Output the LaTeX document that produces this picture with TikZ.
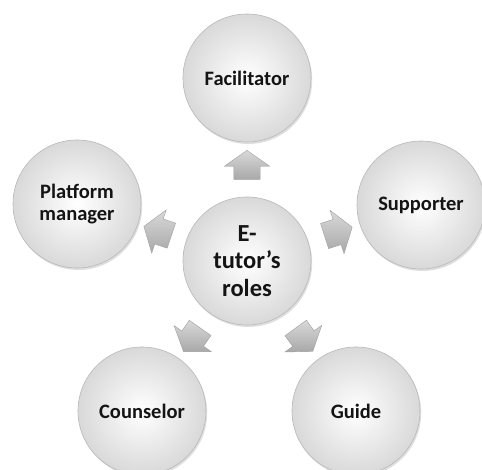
\documentclass[tikz,border=0pt]{standalone}
\usepackage{fontspec}
\setmainfont{Carlito}
\usetikzlibrary{shapes.arrows,shadows,calc}
\begin{document}
\begin{tikzpicture}[x=1pt,y=-1pt]
\tikzset{
 role/.style={circle, minimum size=128pt, inner sep=0pt, draw=gray!55, line width=0.6pt,
   inner color=white, outer color=gray!30,
   drop shadow={shadow xshift=1.2pt, shadow yshift=-2pt, opacity=0.25},
   font=\bfseries\fontsize{20.5}{22}\selectfont, text=black!92, align=center},
 hub/.style={role, font=\bfseries\fontsize{24.5}{27.5}\selectfont},
 blockarrow/.style={single arrow, draw=gray!75, line width=0.4pt,
   top color=gray!30, bottom color=gray!68,
   minimum height=29pt, inner xsep=0pt, inner ysep=13pt,
   single arrow head extend=9.5pt, single arrow tip angle=110,
   sloped, allow upside down}
}
\fill[white] (0,0) rectangle (482,470);
\useasboundingbox (0,0) rectangle (482,470);
\node[hub]  (c)  at (247,261) {E-\\tutor’s\\roles};
\node[role] (f)  at (247,78)  {Facilitator};
\node[role] (s)  at (421,205) {Supporter};
\node[role] (p)  at (77,204)  {Platform\\manager};
\node[role] (co) at (142,411) {Counselor};
\node[role] (g)  at (356,411) {Guide};
\path (c) -- node[blockarrow] (af) {} (f);
\path (c) -- node[blockarrow] (as) {} (s);
\path (c) -- node[blockarrow] (ap) {} (p);
\path (c) -- node[blockarrow] (aco) {} (co);
\path (c) -- node[blockarrow] (ag) {} (g);
\end{tikzpicture}
\end{document}
